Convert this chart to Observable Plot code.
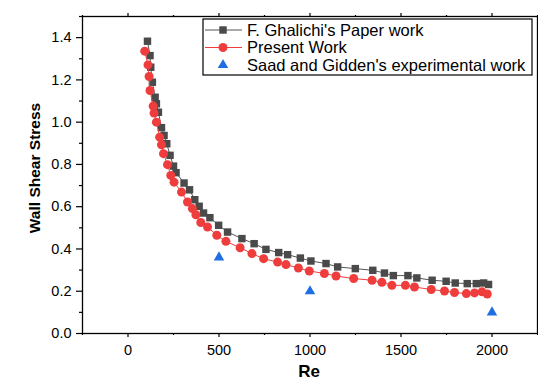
<!DOCTYPE html>
<html>
<head>
<meta charset="utf-8">
<script src="https://cdn.jsdelivr.net/npm/d3@7"></script>
<script src="https://cdn.jsdelivr.net/npm/@observablehq/plot@0.6"></script>
<style>
  body { margin: 0; background: #fff; }
  #chart { width: 538px; height: 381px; }
</style>
</head>
<body>
<div id="chart"></div>
<script>
// Wall shear stress vs Reynolds number
const ghalichiRe = [107,121,125,134,149,156,167,184,198,213,231,250,264,308,338,367,391,415,450,498,547,626,693,758,828,877,947,1005,1088,1152,1249,1345,1409,1458,1538,1587,1671,1748,1798,1864,1914,1954,1981];
const ghalichiWss = [1.383,1.315,1.260,1.189,1.118,1.087,1.047,0.974,0.937,0.898,0.843,0.792,0.761,0.712,0.680,0.633,0.602,0.570,0.548,0.512,0.480,0.449,0.425,0.398,0.383,0.373,0.357,0.343,0.331,0.315,0.307,0.299,0.286,0.274,0.274,0.263,0.252,0.247,0.239,0.236,0.236,0.239,0.232];

const presentRe = [92,110,116,121,138,143,156,174,184,195,217,235,253,294,327,354,373,400,437,488,538,616,681,745,822,868,936,996,1079,1143,1240,1341,1395,1450,1524,1574,1666,1739,1794,1859,1904,1945,1974];
const presentWss = [1.336,1.271,1.216,1.150,1.076,1.043,1.000,0.929,0.893,0.851,0.799,0.748,0.716,0.669,0.622,0.591,0.562,0.525,0.504,0.465,0.436,0.406,0.378,0.354,0.338,0.326,0.310,0.296,0.284,0.272,0.260,0.252,0.242,0.228,0.228,0.220,0.208,0.201,0.194,0.189,0.192,0.197,0.187];

const saadRe = [500, 1000, 2000];
const saadWss = [0.36, 0.20, 0.10];

const xMajor = [0, 500, 1000, 1500, 2000];
const xMinor = [-250, 250, 750, 1250, 1750, 2250];
const yMajor = [0, 0.2, 0.4, 0.6, 0.8, 1.0, 1.2, 1.4];
const yMinor = [0.1, 0.3, 0.5, 0.7, 0.9, 1.1, 1.3, 1.5];

const seriesNames = ["F. Ghalichi's Paper work", "Present Work", "Saad and Gidden's experimental work"];
const xTitle = "Re";
const yTitle = "Wall Shear Stress";

const zip = (xs, ys) => xs.map((re, i) => ({re, wss: ys[i]}));
const ghalichi = zip(ghalichiRe, ghalichiWss);
const present = zip(presentRe, presentWss);
const saad = zip(saadRe, saadWss);

const FONT = "Arial, 'Liberation Sans', Helvetica, sans-serif";
const GRAY = "#4a4a4a", RED = "#ef3d3d", BLUE = "#1f6fe3";
const blank = () => "";

const svg = Plot.plot({
  width: 538,
  height: 381,
  marginLeft: 82,
  marginRight: 1,
  marginTop: 16,
  marginBottom: 48,
  style: {fontFamily: FONT, fontSize: "14.5px", color: "#000", background: "#fff"},
  x: {domain: [-250, 2250], label: null},
  y: {domain: [0, 1.5], label: null},
  marks: [
    Plot.axisX({ticks: xMajor, tickSize: 4, tickPadding: 7, tickFormat: d3.format("d"), label: null, strokeWidth: 1.2}),
    Plot.axisX({ticks: xMinor, tickSize: 2, tickFormat: blank, label: null, strokeWidth: 1.2}),
    Plot.axisX({anchor: "top", ticks: xMajor, tickSize: 4, tickFormat: blank, label: null, strokeWidth: 1.2}),
    Plot.axisX({anchor: "top", ticks: xMinor, tickSize: 2, tickFormat: blank, label: null, strokeWidth: 1.2}),
    Plot.axisY({ticks: yMajor, tickSize: 6, tickPadding: 5, tickFormat: d3.format(".1f"), label: null, strokeWidth: 1.2}),
    Plot.axisY({ticks: yMinor, tickSize: 3, tickFormat: blank, label: null, strokeWidth: 1.2}),
    Plot.axisY({anchor: "right", ticks: yMajor, tickSize: 4, tickFormat: blank, label: null, strokeWidth: 1.2}),
    Plot.frame({stroke: "#000", strokeWidth: 1.3}),
    Plot.line(ghalichi, {x: "re", y: "wss", stroke: "#555", strokeWidth: 1}),
    Plot.dot(ghalichi, {x: "re", y: "wss", symbol: "square", r: 4.2, fill: GRAY, stroke: null}),
    Plot.line(present, {x: "re", y: "wss", stroke: RED, strokeWidth: 1}),
    Plot.dot(present, {x: "re", y: "wss", symbol: "circle", r: 4.5, fill: RED, stroke: null}),
    Plot.dot(saad, {x: "re", y: "wss", symbol: "triangle", r: 3.9, fill: BLUE, stroke: null})
  ]
});

const root = d3.select(svg);

// Axis titles
root.append("text")
  .attr("transform", "translate(40,168) rotate(-90)")
  .attr("text-anchor", "middle")
  .attr("font-family", FONT).attr("font-size", 15.5).attr("font-weight", "bold")
  .attr("fill", "#000")
  .text(yTitle);
root.append("text")
  .attr("x", 309).attr("y", 377)
  .attr("text-anchor", "middle")
  .attr("font-family", FONT).attr("font-size", 17).attr("font-weight", "bold")
  .attr("fill", "#000")
  .text(xTitle);

// Legend box
const legend = root.append("g").attr("transform", "translate(203,19)").attr("text-anchor", "start");
legend.append("rect")
  .attr("width", 329).attr("height", 56)
  .attr("fill", "#fff").attr("stroke", "#000").attr("stroke-width", 1.2);
const entries = [
  {name: seriesNames[0], color: GRAY, line: "#555", sym: d3.symbolSquare, size: Math.PI * 4.2 * 4.2},
  {name: seriesNames[1], color: RED, line: RED, sym: d3.symbolCircle, size: Math.PI * 4.5 * 4.5},
  {name: seriesNames[2], color: BLUE, line: null, sym: d3.symbolTriangle, size: Math.PI * 3.9 * 3.9}
];
entries.forEach((e, i) => {
  const g = legend.append("g").attr("transform", `translate(0,${11 + i * 17.5})`);
  if (e.line) g.append("line").attr("x1", 2).attr("x2", 39).attr("y1", 0).attr("y2", 0)
    .attr("stroke", e.line).attr("stroke-width", 1);
  g.append("path").attr("transform", "translate(20,0)")
    .attr("d", d3.symbol(e.sym, e.size)()).attr("fill", e.color);
  g.append("text").attr("x", 44).attr("dy", "0.35em").attr("text-anchor", "start")
    .attr("font-family", FONT).attr("font-size", 16.5).attr("fill", "#000")
    .text(e.name);
});

document.getElementById("chart").appendChild(svg);
</script>
</body>
</html>
